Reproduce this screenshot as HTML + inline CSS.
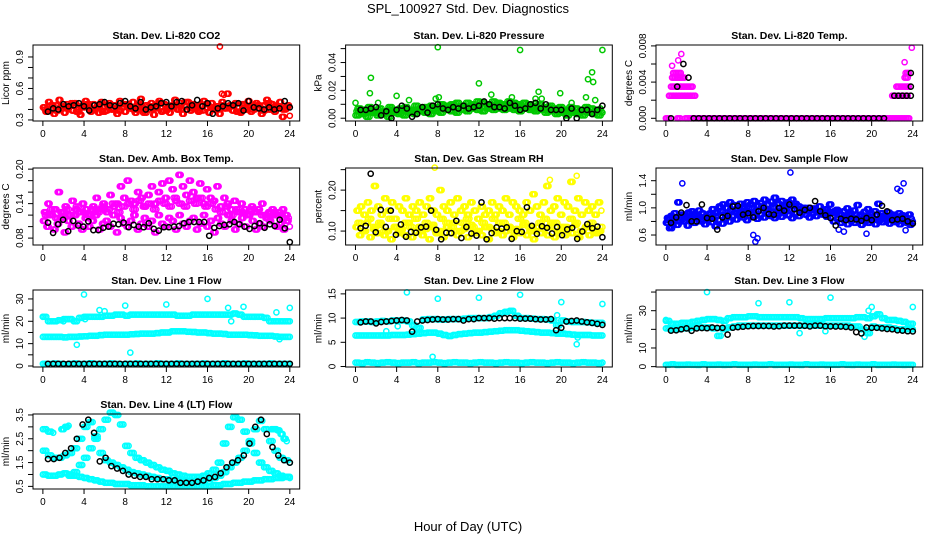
<!DOCTYPE html>
<html><head><meta charset="utf-8"><style>
html,body{margin:0;padding:0;background:#fff;}
svg{display:block;font-family:"Liberation Sans",Arial,sans-serif;}
</style></head><body>
<svg id="c" width="936" height="540" viewBox="0 0 936 540">
<text x="468" y="13" text-anchor="middle" font-size="13">SPL_100927  Std. Dev. Diagnostics</text>
<text x="468" y="531" text-anchor="middle" font-size="13">Hour of Day (UTC)</text>
</svg>
<script>
// ---------- data ----------
const xTicks=[0,4,8,12,16,20,24];
// P1 CO2
const co2RedA=[0.42,0.38,0.47,0.40,0.36,0.44,0.49,0.41,0.37,0.45,0.43,0.39,0.46,0.40,0.35,0.44,0.48,0.42,0.38,0.45,0.41,0.37,0.47,0.43,0.39,0.46,0.40,0.44,0.36,0.48,0.42,0.38,0.45,0.41,0.47,0.37,0.43,0.50,0.39,0.44,0.40,0.46,0.35,0.42,0.48,0.38,0.45,0.41,0.37,0.44,0.49,0.40,0.46,0.36,0.43,0.47,0.39,0.45,0.41,0.38,0.44,0.48,0.42,0.37,0.46,0.40,0.43,0.36,0.47,0.41,0.55,0.44,0.39,0.46,0.42,0.37,0.45,0.40,0.48,0.38,0.43,0.46,0.41,0.36,0.44,0.49,0.40,0.45,0.38,0.43,0.47,0.33,0.41,0.44,0.34];
const co2RedB=[0.40,0.44,0.39,0.43,0.41,0.46,0.38,0.42,0.45,0.40,0.43,0.38,0.44,0.41,0.39,0.45,0.42,0.40,0.44,0.37,0.43,0.41,0.46,0.39,0.42,0.44,0.40,0.47,0.41,0.43,0.39,0.45,0.42,0.40,0.44,0.41,0.43,0.38,0.45,0.42,0.40,0.44,0.39,0.46,0.41,0.43,0.40,0.42];
const co2RedOutX=[17.2,17.4,17.6];
const co2RedOutY=[1.00,0.55,0.54];
const co2Black=[0.38,0.41,0.40,0.45,0.43,0.44,0.46,0.43,0.39,0.44,0.45,0.47,0.44,0.43,0.46,0.48,0.43,0.41,0.47,0.40,0.42,0.43,0.46,0.47,0.43,0.47,0.48,0.40,0.44,0.49,0.43,0.46,0.36,0.41,0.43,0.46,0.44,0.46,0.39,0.48,0.42,0.41,0.40,0.42,0.40,0.41,0.48,0.42];
// P2 pressure
const presGreenA=[0.002,0.003,0.001,0.004,0.002,0.003,0.001,0.004,0.003,0.002,0.004,0.003,0.005,0.004,0.003,0.005,0.004,0.006,0.005,0.004,0.006,0.005,0.007,0.006,0.005,0.007,0.006,0.007,0.006,0.007,0.006,0.005,0.007,0.006,0.005,0.006,0.004,0.005,0.003,0.004,0.002,0.004,0.003,0.002,0.004,0.003,0.002,0.004];
const presGreenB=[0.007,0.006,0.008,0.006,0.007,0.005,0.008,0.006,0.007,0.008,0.006,0.009,0.007,0.008,0.009,0.008,0.010,0.009,0.010,0.011,0.009,0.011,0.010,0.012,0.011,0.010,0.012,0.011,0.010,0.012,0.011,0.010,0.011,0.010,0.009,0.010,0.008,0.009,0.007,0.008,0.006,0.008,0.007,0.006,0.008,0.007,0.006,0.007];
const presGreenC=[0.005,0.004,0.005,0.006,0.004,0.005,0.006,0.005,0.005,0.006,0.005,0.006,0.007,0.006,0.007,0.007,0.008,0.007,0.008,0.008,0.009,0.008,0.009,0.009,0.008,0.009,0.009,0.010,0.009,0.009,0.008,0.009,0.008,0.008,0.007,0.007,0.006,0.007,0.005,0.006,0.005,0.005,0.004,0.005,0.005,0.004,0.005,0.005];
const presOutX=[0,1.4,1.5,2.2,4,5.2,7.8,8.1,8,12,13.2,15.2,16,17.5,17.8,18.1,19.9,21,22.4,22.6,23,23.1,23.3,24];
const presOutY=[0.011,0.018,0.029,0.011,0.016,0.013,0.014,0.015,0.051,0.025,0.017,0.015,0.049,0.014,0.019,0.014,0.018,0.011,0.015,0.028,0.033,0.026,0.013,0.049];
const presBlack=[0.006,0.006,0.007,0.008,0.002,0.005,0.000,0.006,0.009,0.007,0.001,0.003,0.008,0.004,0.009,0.010,0.007,0.006,0.008,0.007,0.009,0.007,0.008,0.009,0.012,0.010,0.008,0.008,0.007,0.011,0.009,0.006,0.007,0.010,0.011,0.007,0.010,0.006,0.006,0.006,0.000,0.007,0.000,0.006,0.006,0.003,0.006,0.009];
// P3 Li-820 temp (quantized levels)
const tempMagLevel=[0,0,0,0.0025,0.0035,0.0045,0.005,0.0025,0.0035,0.0045,0.005];
const tempMagStart=[0,1.1,1.9,0.3,0.5,0.6,0.7,22,22.4,23.2,23.3];
const tempMagEnd=[0.4,1.5,23.7,2.9,2.6,1.9,1.5,23.6,23.7,23.5,23.6];
const tempMagPtX=[0.6,1.2,1.5,23.2,23.9];
const tempMagPtY=[0.0058,0.0064,0.0071,0.0062,0.0078];
const tempBlackLevel=[0];
const tempBlackStart=[2.7];
const tempBlackEnd=[21.6];
const tempBlackPtX=[0.5,1.1,1.7,2.2,22.2,22.6,23,23.4,23.8,23.8,23.8];
const tempBlackPtY=[0,0.0035,0.006,0.0045,0.0025,0.0025,0.0025,0.0025,0.0025,0.0035,0.005];
// P4 amb box temp
const ambMagA=[0.11,0.10,0.12,0.095,0.105,0.115,0.09,0.11,0.10,0.12,0.105,0.095,0.115,0.10,0.11,0.12,0.095,0.105,0.11,0.10,0.12,0.09,0.115,0.105,0.10,0.11,0.12,0.095,0.105,0.115,0.10,0.11,0.09,0.12,0.105,0.10,0.115,0.11,0.095,0.12,0.105,0.10,0.11,0.115,0.095,0.105,0.12,0.10,0.11,0.09,0.115,0.105,0.10,0.12,0.11,0.095,0.105,0.115,0.10,0.12,0.11,0.095,0.105,0.10,0.115,0.11,0.12,0.10,0.105,0.095,0.11,0.10];
const ambMagB=[0.125,0.14,0.12,0.13,0.16,0.125,0.135,0.12,0.145,0.13,0.125,0.14,0.13,0.12,0.135,0.15,0.13,0.14,0.125,0.155,0.135,0.14,0.17,0.15,0.18,0.145,0.14,0.16,0.15,0.135,0.155,0.17,0.14,0.16,0.175,0.15,0.18,0.165,0.145,0.19,0.17,0.155,0.18,0.16,0.15,0.175,0.14,0.165,0.15,0.145,0.17,0.135,0.15,0.14,0.13,0.145,0.125,0.14,0.13,0.12,0.135,0.125,0.13,0.14,0.12,0.125,0.13,0.12,0.125,0.13,0.12,0.115];
const ambMagC=[0.12,0.13,0.115,0.125,0.13,0.12,0.135,0.125,0.12,0.13,0.125,0.135,0.13,0.14,0.125,0.135,0.14,0.13,0.145,0.135,0.14,0.13,0.145,0.14,0.135,0.15,0.14,0.135,0.145,0.14,0.15,0.135,0.14,0.13,0.125,0.135,0.12,0.13,0.125,0.12,0.13,0.125,0.12,0.115,0.125,0.12,0.115,0.12];
const ambBlack=[0.107,0.089,0.104,0.112,0.092,0.110,0.102,0.100,0.109,0.094,0.094,0.098,0.100,0.105,0.104,0.107,0.099,0.103,0.100,0.099,0.106,0.096,0.093,0.099,0.099,0.100,0.101,0.106,0.108,0.108,0.108,0.108,0.084,0.098,0.101,0.103,0.104,0.108,0.104,0.100,0.096,0.101,0.106,0.098,0.104,0.101,0.112,0.097,0.073];
// P5 RH
const rhYelA=[0.11,0.09,0.10,0.12,0.085,0.105,0.095,0.115,0.09,0.10,0.08,0.11,0.095,0.105,0.09,0.12,0.085,0.10,0.11,0.09,0.105,0.08,0.115,0.095,0.10,0.085,0.11,0.095,0.12,0.09,0.10,0.105,0.085,0.115,0.095,0.10,0.09,0.11,0.08,0.105,0.095,0.12,0.09,0.10,0.11,0.085,0.105,0.095,0.115,0.09,0.10,0.08,0.11,0.095,0.105,0.09,0.12,0.085,0.10,0.11,0.09,0.105,0.095,0.115,0.085,0.10,0.11,0.09,0.105,0.095,0.10,0.11];
const rhYelB=[0.15,0.16,0.14,0.17,0.15,0.21,0.16,0.14,0.18,0.15,0.17,0.13,0.16,0.15,0.18,0.14,0.16,0.15,0.17,0.14,0.16,0.18,0.15,0.14,0.20,0.16,0.15,0.17,0.14,0.18,0.15,0.16,0.14,0.17,0.15,0.13,0.16,0.14,0.15,0.17,0.14,0.16,0.15,0.18,0.14,0.17,0.16,0.15,0.14,0.17,0.15,0.19,0.16,0.14,0.17,0.21,0.15,0.16,0.18,0.14,0.17,0.16,0.22,0.15,0.18,0.14,0.17,0.15,0.16,0.14,0.17,0.15];
const rhYelC=[0.12,0.10,0.13,0.11,0.12,0.10,0.13,0.11,0.10,0.12,0.11,0.13,0.10,0.12,0.11,0.10,0.13,0.12,0.11,0.10,0.12,0.13,0.11,0.10,0.12,0.11,0.13,0.10,0.12,0.11,0.10,0.13,0.12,0.11,0.10,0.12,0.13,0.11,0.12,0.10,0.11,0.13,0.12,0.10,0.11,0.12,0.10,0.11];
const rhOutX=[7.7,18.9,21.5];
const rhOutY=[0.255,0.225,0.235];
const rhBlack=[0.107,0.113,0.240,0.097,0.152,0.110,0.150,0.091,0.116,0.086,0.098,0.096,0.109,0.111,0.150,0.103,0.080,0.096,0.095,0.125,0.083,0.110,0.094,0.089,0.170,0.080,0.095,0.109,0.106,0.109,0.081,0.100,0.098,0.158,0.113,0.093,0.112,0.108,0.094,0.110,0.090,0.104,0.108,0.081,0.099,0.117,0.107,0.111,0.085];
// P6 sample flow
const sfBlueA=[0.78,0.72,0.82,0.75,0.85,0.80,0.74,0.83,0.78,0.86,0.80,0.76,0.84,0.79,0.73,0.82,0.77,0.85,0.80,0.88,0.83,0.90,0.86,0.82,0.92,0.87,0.84,0.90,0.86,0.93,0.88,0.85,0.91,0.87,0.94,0.89,0.85,0.92,0.88,0.95,0.90,0.86,0.92,0.88,0.94,0.90,0.87,0.93,0.80,0.84,0.78,0.82,0.76,0.81,0.78,0.84,0.75,0.80,0.78,0.83,0.76,0.81,0.79,0.84,0.77,0.82,0.79,0.76,0.81,0.78,0.75,0.80];
const sfBlueB=[0.85,0.88,0.92,1.08,0.90,0.86,0.93,0.95,0.88,0.96,0.92,0.85,0.90,0.98,0.93,1.02,1.05,1.00,1.08,1.04,0.98,1.06,1.02,1.08,1.05,1.10,1.03,1.07,1.12,1.05,1.09,1.15,1.06,1.10,1.04,1.08,1.12,1.06,1.02,0.98,0.95,1.00,0.92,0.96,1.02,0.94,0.98,1.05,0.93,0.97,0.90,0.95,0.99,0.92,0.96,1.04,0.90,0.94,0.98,0.91,0.95,1.06,0.92,0.88,0.93,0.90,0.87,0.92,0.89,0.86,0.90,0.84];
const sfBlueC=[0.82,0.86,0.80,0.88,0.84,0.90,0.83,0.87,0.92,0.88,0.95,0.90,0.97,0.93,0.99,0.95,1.00,0.96,1.02,0.97,1.00,0.95,1.01,0.97,1.03,0.98,1.00,0.96,0.99,0.94,0.97,0.92,0.95,0.90,0.86,0.90,0.85,0.88,0.84,0.87,0.83,0.88,0.85,0.82,0.86,0.83,0.80,0.84];
const sfOutX=[1.6,8.5,8.7,8.9,12.1,19.5,22.5,22.8,23.1,23.3,0.3,0.6,16.8,17.3];
const sfOutY=[1.36,0.60,0.50,0.55,1.52,0.62,1.28,1.25,1.36,0.67,0.70,0.70,0.68,0.65];
const sfBlack=[0.78,0.86,0.93,1.04,0.80,0.80,1.05,0.85,0.84,0.68,0.86,0.88,1.02,1.03,0.90,0.92,0.86,0.95,1.00,0.91,0.90,1.00,0.96,1.05,0.98,0.93,0.97,1.00,1.10,0.95,0.89,0.85,0.74,0.84,0.82,0.84,0.83,0.81,0.85,0.82,0.90,1.03,0.95,0.82,0.83,0.84,0.80,0.77];
// P7 line 1
const l1Upper=[22,20,20,20.5,21,21,20,21.5,22,22,22,22,22.5,22.5,23,23,22.5,23,23,23,23,23,23,23,23,23,22.5,22.5,22.5,23,23,23,23,23,23,23,23,23.5,23,22,22,22,22,21.5,20,20,20,20,20];
const l1Mid=[13,13,13,13,12.8,13,13,13.2,13.3,13.5,13.5,13.8,14,14,14,14,14,14.2,14.3,14.5,14.5,14.5,14.7,15,15,15.5,15.5,15.5,15.3,15.2,15,15,14.7,14.5,14.5,14.3,14,14,14,14,13.8,13.7,13.5,13.5,13.5,13.2,13,13,13];
const l1Low=[1,0.9,1.1,1,0.8,1,1.1,0.9,1,1.2,1,0.9,1,1.1,1,0.8,1,1,1.1,0.9,1,1,1.2,1,0.9,1,1.1,1,0.9,1,1,1.1,0.9,1,1,1.2,1,0.9,1,1.1,1,0.9,1,1,1.1,0.9,1,1,1];
const l1OutX=[0,4,4.1,2,3.3,5.5,6,8,8.5,12,16,18,18.3,19.5,24,22.7,23];
const l1OutY=[22,32,21,20,9.5,25,24.5,27,6,27.5,30,26,20,26.5,26,24,12];
const l1Black=[1,1,1,1,1,1,1,1,1,1,1,1,1,1,1,1,1,1,1,1,1,1,1,1,1,1,1,1,1,1,1,1,1,1,1,1,1,1,1,1,1,1,1,1,1,1,1,1];
// P8 line 2
const l2Upper=[9.2,9.3,9.3,9.2,9.3,9.4,9.3,9.5,9.5,9.5,9.3,8.5,8,9.7,9.8,9.8,9.7,9.7,9.8,9.8,9.8,9.9,10,10,10,10,10.2,10.5,11,11.3,11.5,10.5,10,10,9.9,9.8,9.8,9.7,9.5,8.5,9.5,9.3,9.2,9.2,9.2,9.1,9,9,9];
const l2Mid=[6.4,6.4,6.4,6.4,6.4,6.4,6.4,6.5,6.5,6.5,6.6,6.7,6.8,6.9,7,7,6.8,6.5,6.3,6.5,6.7,6.8,6.9,7,7,7.1,7.2,7.3,7.4,7.5,7.5,7.5,7.4,7.3,7.2,7.1,7,7,6.9,6.8,6.8,6.7,6.6,6.5,6.5,6.5,6.4,6.4,6.4];
const l2Low=[0.8,0.7,0.9,0.8,0.7,0.8,0.9,0.8,0.7,0.8,0.8,0.9,0.7,0.8,0.8,0.9,0.8,0.7,0.8,0.9,0.8,0.8,0.7,0.8,0.9,0.8,0.8,0.7,0.8,0.9,0.8,0.8,0.7,0.8,0.9,0.8,0.8,0.7,0.8,0.9,0.8,0.8,0.7,0.8,0.9,0.8,0.8,0.7,0.8];
const l2OutX=[5,8,12,16,20,24,3,7.5,19.6,21.5,21.6,4.1];
const l2OutY=[15.3,14,14.2,14.8,13.3,12.9,7.3,2,10.6,4.6,6,8.3];
const l2Black=[9.1,9.3,9.3,8.9,9.2,9.3,9.4,9.5,9.6,9.5,7.2,9.3,9.5,9.6,9.7,9.8,9.7,9.7,9.8,9.8,9.5,9.8,9.8,10,10,10,9.9,10,10,10,10,9.9,9.9,9.9,9.8,9.7,9.7,9.8,7.5,8,9.3,9.4,9.5,9.3,9.1,9,8.8,8.6];
// P9 line 3
const l3Upper=[24.5,23,23,23.5,23.5,24,24.5,25,25.5,25.5,25,24.5,26,26.5,26.5,26.5,27,27,26.5,26.5,26.5,26.5,26.5,26.5,26.5,26.5,26,25.5,25.5,25.5,25.5,26,26,26,26,26,26,26.5,26.5,26,27,28,26,25,25,24.5,24,23,23];
const l3Mid=[20.5,20,20,20.5,20.5,21,21,21,21,20.5,16.5,20,21,21.5,22,22,22,22,22,22,22,22,22,22,22,22,22,22,22,22,22,22,22,22,22,22,21.5,21.5,20,18,21.5,21,21,21,20.5,20,20,20,20];
const l3Low=[1,1.2,0.9,1,1.1,1,0.9,1.2,1,1,1.1,0.9,1,1.2,1,1,0.9,1.1,1,1,1.2,0.9,1,1,1.1,1,0.9,1.2,1,1,1.1,0.9,1,1,1.2,1,0.9,1.1,1,1,1.2,0.9,1,1,1.1,1,0.9,1,1];
const l3OutX=[4,9,12,16,20,24,0,19.7,13,15.5,19.3];
const l3OutY=[40,34,34.5,37,32,32,25,30,18,19,16];
const l3Black=[19.3,19.5,20,20.5,19.2,20.5,20.7,20.6,21,20.7,20.8,17.2,20.9,21.2,21.4,21.7,21.8,21.8,21.8,21.8,21.5,21.7,22,22,22,22,21.9,21.6,22,22,21.7,21.6,21.5,21.5,21.3,21,18.5,17.8,21,20.8,20.8,20.5,20.2,20,19.5,19.3,19,18.9];
// P10 line 4
const l4CurveA=[2.0,1.8,1.7,1.7,1.8,1.9,2.1,2.5,3.0,3.2,2.6,1.9,1.6,1.5,1.4,1.3,1.2,1.1,1.05,1.0,0.95,0.9,0.85,0.8,0.8,0.75,0.75,0.7,0.7,0.7,0.7,0.75,0.8,0.85,0.95,1.1,1.3,1.5,1.7,2.0,2.4,2.9,3.25,2.9,2.4,2.0,1.7,1.6,1.5];
const l4CurveB=[0.95,1.1,1.4,1.7,2.1,2.5,2.9,3.3,3.6,3.5,3.1,2.2,1.9,1.7,1.6,1.5,1.4,1.3,1.2,1.15,1.05,1.0,0.95,0.9,0.9,0.9,0.95,1.05,1.2,1.5,2.3,3.0,3.4,3.3,2.8,2.3,1.9,1.5,1.3,1.15,1.05,0.95,0.9,0.85];
const l4Base=[1.0,0.95,0.95,1.0,1.05,1.0,0.95,0.9,0.85,0.8,0.75,0.7,0.65,0.65,0.6,0.6,0.6,0.55,0.55,0.55,0.5,0.5,0.5,0.5,0.5,0.5,0.5,0.5,0.5,0.5,0.5,0.5,0.5,0.55,0.55,0.6,0.6,0.65,0.65,0.7,0.7,0.75,0.75,0.8,0.8,0.85,0.85,0.9,0.9];
const l4SegC1=[2.9,2.8,2.75];
const l4SegC2=[2.9,3.0,3.05];
const l4SegC3=[2.9,2.9,2.85,2.7,2.5,2.4];
const l4Black=[1.65,1.65,1.7,1.9,2.1,2.5,3.1,3.3,2.75,1.55,1.7,1.35,1.25,1.15,1.0,0.95,0.9,0.9,0.8,0.8,0.8,0.75,0.75,0.65,0.65,0.65,0.7,0.75,0.85,0.9,1.05,1.3,1.5,1.6,1.8,2.3,3.0,3.3,2.7,2.15,1.8,1.6,1.5];
// tick values / labels
const p1Ticks=[0.3,0.4,0.5,0.6,0.7,0.8,0.9], p1Labels=["0.3","","","0.6","","","0.9"];
const p2Ticks=[0,0.01,0.02,0.03,0.04,0.05], p2Labels=["0.00","","0.02","","0.04",""];
const p3Ticks=[0,0.002,0.004,0.006,0.008], p3Labels=["0.000","","0.004","","0.008"];
const p4Ticks=[0.08,0.10,0.12,0.14,0.16,0.18,0.20], p4Labels=["0.08","","","0.14","","","0.20"];
const p5Ticks=[0.10,0.15,0.20,0.25], p5Labels=["0.10","","0.20",""];
const p6Ticks=[0.6,0.8,1.0,1.2,1.4], p6Labels=["0.6","","1.0","","1.4"];
const p7Ticks=[0,5,10,15,20,25,30], p7Labels=["0","","10","","20","","30"];
const p8Ticks=[0,5,10,15], p8Labels=["0","5","10","15"];
const p9Ticks=[0,10,20,30,40], p9Labels=["0","10","","30",""];
const p10Ticks=[0.5,1,1.5,2,2.5,3,3.5], p10Labels=["0.5","","1.5","","2.5","","3.5"];

// ---------- rendering ----------
const NS="http://www.w3.org/2000/svg";
const svg=document.getElementById('c');
function mk(tag,attrs,parent){const e=document.createElementNS(NS,tag);for(const k in attrs)e.setAttribute(k,attrs[k]);(parent||svg).appendChild(e);return e;}
const colLeft=[33,345.6,656], rowTop=[45,168,290,414], rowBot=[121,245,367,489];
const BW=266.7;
function panel(col,row,name,title,ylab,ylo,yhi,ticks,labels){
  const L=colLeft[col],T=rowTop[row],B=rowBot[row],R=L+BW;
  const g=mk('g',{});
  
  
  const sx=h=>L+9.88+h*(BW-19.76)/24;
  const sy=v=>B-(v-ylo)/(yhi-ylo)*(B-T);
  const t=mk('text',{x:(L+R)/2,y:T-6,'text-anchor':'middle','font-size':'10.5','font-weight':'bold'},g);t.textContent=title;
  
  const plot=mk('g',{},g);
  
  const ax=mk('g',{stroke:'#000','stroke-width':'1',fill:'none'},g);
  
  mk('rect',{x:L,y:T,width:BW,height:B-T},ax);
  xTicks.forEach(h=>{mk('line',{x1:sx(h),x2:sx(h),y1:B,y2:B+5},ax);
    const tx=mk('text',{x:sx(h),y:B+16,'text-anchor':'middle','font-size':'10',stroke:'none',fill:'#000'},g);tx.textContent=h;
    });
  ticks.forEach((v,i)=>{const y=sy(v);mk('line',{x1:L-5,x2:L,y1:y,y2:y},ax);
    if(labels[i]){const tx=mk('text',{x:0,y:0,'text-anchor':'middle','font-size':'10',fill:'#000',transform:`translate(${L-10},${y}) rotate(-90)`},g);tx.textContent=labels[i];
    }});
  const yl=mk('text',{x:0,y:0,'text-anchor':'middle','font-size':'10',transform:`translate(${L-24},${(T+B)/2}) rotate(-90)`},g);yl.textContent=ylab;
  
  function pt(h,v,c){mk('circle',{cx:sx(h).toFixed(1),cy:sy(v).toFixed(1),r:2.6,fill:'none',stroke:c,'stroke-width':1.5},plot);}
  const api={
    series(arr,c,x0=0,x1=24){const n=arr.length;arr.forEach((v,i)=>pt(n>1?x0+i*(x1-x0)/(n-1):x0,v,c));},
    dense(arr,c,x0=0,x1=24){const n=arr.length,st=(x1-x0)/Math.max(n-1,1);
      [0,0.33,0.66].forEach(f=>arr.forEach((v,i)=>{const h=x0+(i+f)*st;if(h<=x1+0.01)pt(h,v,c);}));},
    xy(xs,ys,c){xs.forEach((h,i)=>pt(h,ys[i],c));},
    levels(lv,a,b,c,step){lv.forEach((v,i)=>{for(let h=a[i];h<=b[i]+1e-9;h+=step)pt(h,v,c);});}
  };
  return api;
}
const RED='#ff0000',GRN='#00c800',MAG='#ff00ff',YEL='#ffff00',BLU='#0000ff',CYN='#00ffff',BLK='#000';
let p;
p=panel(0,0,'co2','Stan. Dev. Li-820 CO2','Licor ppm',0.29,1.014,p1Ticks,p1Labels);
p.dense(co2RedA,RED);p.dense(co2RedB,RED,0.2,23.8);p.xy(co2RedOutX,co2RedOutY,RED);p.series(co2Black,BLK,0.5,24);
p=panel(1,0,'pressure','Stan. Dev. Li-820 Pressure','kPa',-0.002,0.0526,p2Ticks,p2Labels);
p.dense(presGreenA,GRN);p.dense(presGreenB,GRN,0.2,23.8);p.dense(presGreenC,GRN,0.1,23.9);p.xy(presOutX,presOutY,GRN);p.series(presBlack,BLK,0.5,24);
p=panel(2,0,'li820-temp','Stan. Dev. Li-820 Temp.','degrees C',-0.0003,0.0081,p3Ticks,p3Labels);
p.levels(tempMagLevel,tempMagStart,tempMagEnd,MAG,0.15);p.xy(tempMagPtX,tempMagPtY,MAG);
p.levels(tempBlackLevel,tempBlackStart,tempBlackEnd,BLK,0.5);p.xy(tempBlackPtX,tempBlackPtY,BLK);
p=panel(0,1,'amb-box-temp','Stan. Dev. Amb. Box Temp.','degrees C',0.068,0.202,p4Ticks,p4Labels);
p.dense(ambMagA,MAG);p.dense(ambMagB,MAG,0.1,23.9);p.dense(ambMagC,MAG,0.2,23.7);p.series(ambBlack,BLK,0.5,24);
p=panel(1,1,'gas-stream-rh','Stan. Dev. Gas Stream RH','percent',0.066,0.254,p5Ticks,p5Labels);
p.dense(rhYelA,YEL);p.dense(rhYelB,YEL,0.1,23.9);p.dense(rhYelC,YEL,0.2,23.8);p.xy(rhOutX,rhOutY,YEL);p.series(rhBlack,BLK,0.5,24);
p=panel(2,1,'sample-flow','Stan. Dev. Sample Flow','ml/min',0.453,1.587,p6Ticks,p6Labels);
p.dense(sfBlueA,BLU);p.dense(sfBlueB,BLU,0.1,23.9);p.dense(sfBlueC,BLU,0.2,23.8);p.xy(sfOutX,sfOutY,BLU);p.series(sfBlack,BLK,0.5,24);
p=panel(0,2,'line1-flow','Stan. Dev. Line 1 Flow','ml/min',-0.45,34,p7Ticks,p7Labels);
p.dense(l1Upper,CYN);p.dense(l1Mid,CYN);p.dense(l1Low,CYN);p.xy(l1OutX,l1OutY,CYN);p.series(l1Black,BLK,0.5,24);
p=panel(1,2,'line2-flow','Stan. Dev. Line 2 Flow','ml/min',-0.1,15.8,p8Ticks,p8Labels);
p.dense(l2Upper,CYN);p.dense(l2Mid,CYN);p.dense(l2Low,CYN);p.xy(l2OutX,l2OutY,CYN);p.series(l2Black,BLK,0.5,24);
p=panel(2,2,'line3-flow','Stan. Dev. Line 3 Flow','ml/min',-0.2,41.1,p9Ticks,p9Labels);
p.dense(l3Upper,CYN);p.dense(l3Mid,CYN);p.dense(l3Low,CYN);p.xy(l3OutX,l3OutY,CYN);p.series(l3Black,BLK,0.5,24);
p=panel(0,3,'line4-flow','Stan. Dev. Line 4 (LT) Flow','ml/min',0.39,3.54,p10Ticks,p10Labels);
p.dense(l4CurveA,CYN);p.dense(l4CurveB,CYN,2.5,24);p.dense(l4Base,CYN);
p.dense(l4SegC1,CYN,0,1);p.dense(l4SegC2,CYN,1.8,2.5);p.dense(l4SegC3,CYN,22.2,23.7);
p.series(l4Black,BLK,0.5,24);
</script>
</body></html>
